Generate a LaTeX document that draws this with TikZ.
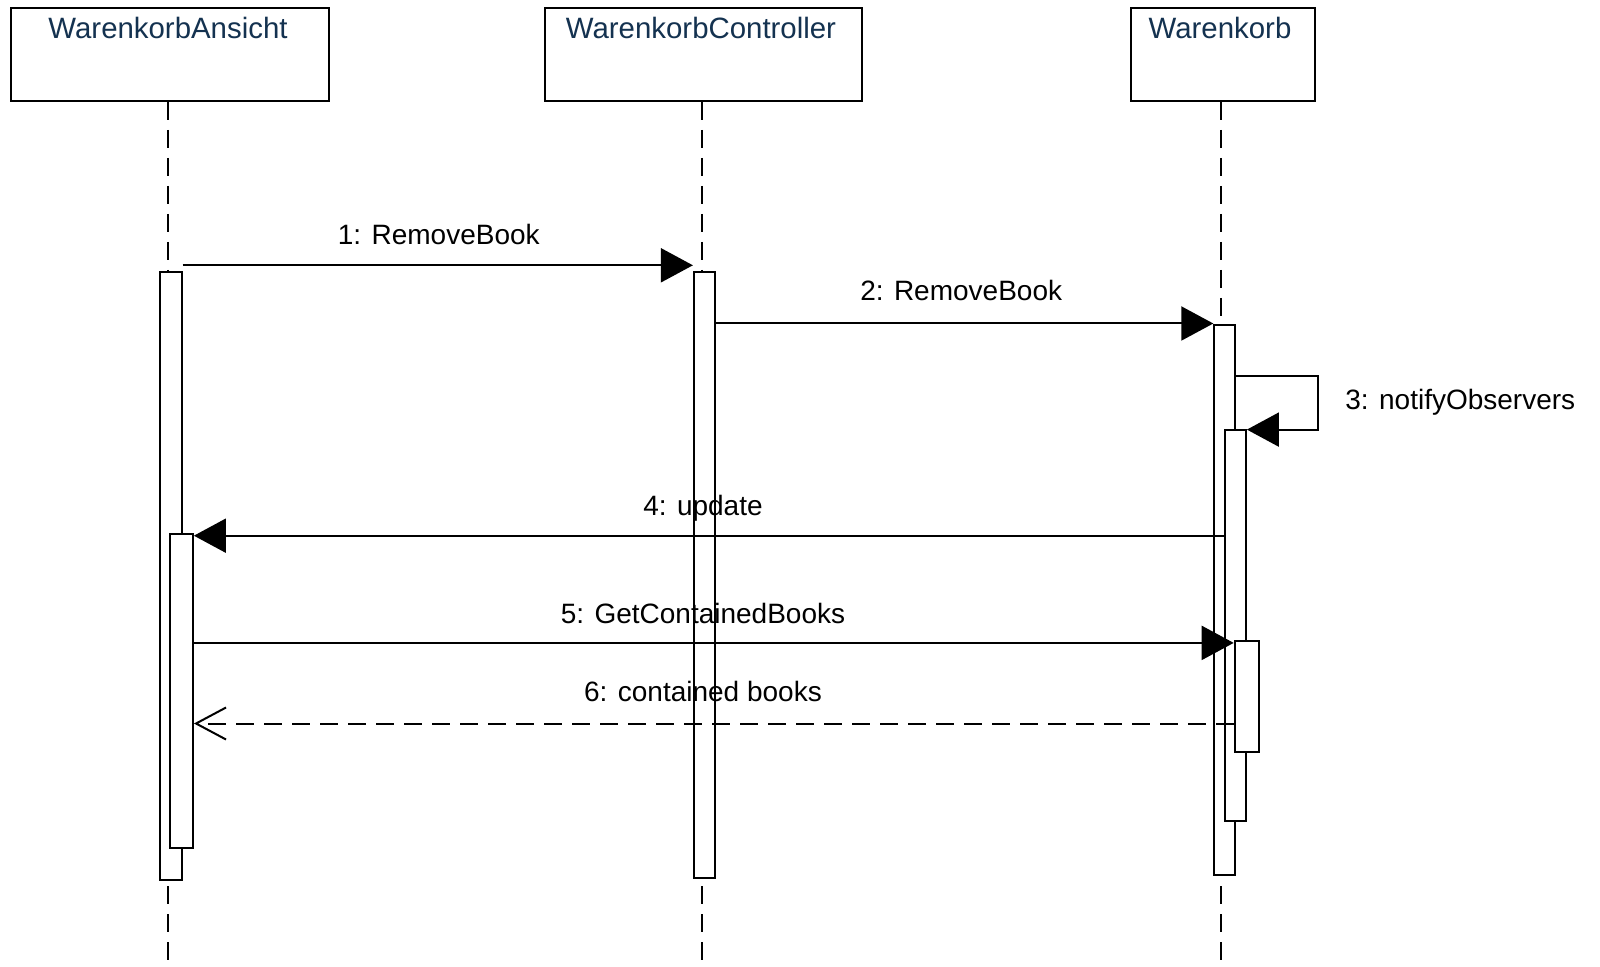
\documentclass[tikz,border=0pt]{standalone}
\usepackage{fontspec}
\setmainfont{Liberation Sans}
\usetikzlibrary{arrows.meta,fit}
\definecolor{headtext}{RGB}{20,50,80}
\begin{document}
\begin{tikzpicture}[x=0.5pt,y=-0.5pt,
  headbox/.style={draw=black,line width=1pt,fill=white,inner sep=0pt},
  actbox/.style={draw=black,line width=1pt,fill=white,inner sep=0pt},
  lifeline/.style={draw=black,line width=1pt,dash pattern=on 9pt off 5pt},
  msg/.style={draw=black,line width=1pt,-{Triangle[length=16pt,width=17pt]}},
  reply/.style={draw=black,line width=1pt,dash pattern=on 9pt off 5pt,-{Straight Barb[length=15pt,width=16pt,line width=1pt]}},
  headlabel/.style={font=\fontsize{14.7pt}{16pt}\selectfont,text=headtext,anchor=base,inner sep=0pt},
  msglabel/.style={font=\fontsize{14pt}{16pt}\selectfont,text=black,anchor=base,inner sep=0pt}]
\useasboundingbox (0,0) rectangle (1600,967);
% header boxes
\node[headbox,fit={(11.2,8.2) (328.6,101)}] (H1) {};
\node[headbox,fit={(545,8.2) (862,101)}] (H2) {};
\node[headbox,fit={(1130.6,8.2) (1315.3,101)}] (H3) {};
\node[headlabel] (T1) at (168,38.6) {WarenkorbAnsicht};
\node[headlabel] (T2) at (701,38.6) {WarenkorbController};
\node[headlabel] (T3) at (1220,38.6) {Warenkorb};
% lifelines
\coordinate (E1) at (168.4,967);
\coordinate (E2) at (702,967);
\coordinate (E3) at (1221.4,967);
\draw[lifeline] (H1.south -| E1) -- (E1);
\draw[lifeline] (H2.south -| E2) -- (E2);
\draw[lifeline] (H3.south -| E3) -- (E3);
% activations
\node[actbox,fit={(160.2,272.4) (181.6,879.6)}] (A1) {};
\node[actbox,fit={(170.4,533.7) (192.9,848)}] (A2) {};
\node[actbox,fit={(693.9,272.4) (715.3,877.6)}] (C1) {};
\node[actbox,fit={(1214.3,325.5) (1234.7,874.5)}] (W1) {};
\node[actbox,fit={(1224.5,429.6) (1245.9,821.4)}] (W2) {};
\node[actbox,fit={(1234.7,640.8) (1259.2,752)}] (W3) {};
% message heights
\coordinate (y1) at (0,265.3);
\coordinate (y2) at (0,323.5);
\coordinate (y3a) at (0,376.5);
\coordinate (y3b) at (0,429.6);
\coordinate (y4) at (0,535.7);
\coordinate (y5) at (0,642.9);
\coordinate (y6) at (0,723.5);
\coordinate (x3) at (1318.4,0);
% messages
\draw[msg] (A1.east |- y1) -- (C1.west |- y1);
\draw[msg] (C1.east |- y2) -- (W1.west |- y2);
\draw[msg] (W1.east |- y3a) -- (x3 |- y3a) -- (x3 |- y3b) -- (W2.east |- y3b);
\draw[msg] (W2.west |- y4) -- (A2.east |- y4);
\draw[msg] (A2.east |- y5) -- (W3.west |- y5);
\draw[reply] (W3.west |- y6) -- (A2.east |- y6);
% labels
\node[msglabel] (L1) at (438.8,244.7) {1: RemoveBook};
\node[msglabel] (L2) at (961.2,300.8) {2: RemoveBook};
\node[msglabel,anchor=base west] (L3) at (1345,410) {3: notifyObservers};
\node[msglabel] (L4) at (703,516) {4: update};
\node[msglabel] (L5) at (703,623) {5: GetContainedBooks};
\node[msglabel] (L6) at (703,701) {6: contained books};
\end{tikzpicture}
\end{document}
